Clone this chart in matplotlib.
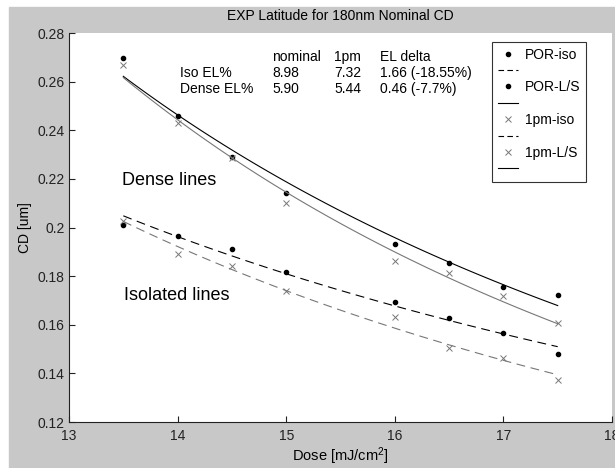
import numpy as np
import matplotlib
matplotlib.use("Agg")
import matplotlib.pyplot as plt
from matplotlib.lines import Line2D

plt.rcParams['font.family'] = ['Liberation Sans', 'DejaVu Sans']
plt.rcParams['mathtext.default'] = 'regular'

# exposure dose [mJ/cm^2]
dose = np.array([13.5, 14.0, 14.5, 15.0, 16.0, 16.5, 17.0, 17.5])

# CD [um]
por_iso = np.array([0.2010, 0.1965, 0.1910, 0.1816, 0.1695, 0.1628, 0.1567, 0.1480])
por_ls = np.array([0.2697, 0.2460, 0.2290, 0.2142, 0.1932, 0.1855, 0.1756, 0.1724])
pm_iso = np.array([0.2027, 0.1890, 0.1842, 0.1739, 0.1630, 0.1503, 0.1462, 0.1373])
pm_ls = np.array([0.2670, 0.2430, 0.2285, 0.2102, 0.1862, 0.1811, 0.1718, 0.1607])

table_head = ['nominal', '1pm', 'EL delta']
table_rows = ['Iso EL%', 'Dense EL%']
table_vals = [['8.98', '7.32', '1.66 (-18.55%)'],
              ['5.90', '5.44', '0.46 (-7.7%)']]


def power_fit(x, y):
    # power law fit CD = a * dose^b, done in log-log space
    b, a = np.polyfit(np.log(x), np.log(y), 1)
    xf = np.linspace(x.min(), x.max(), 100)
    return xf, np.exp(a) * xf ** b


W, H = 615, 468
gray_bg = '#c8c8c8'
fig = plt.figure(figsize=(W / 100, H / 100), dpi=100, facecolor='white')
fig.patches.append(plt.Rectangle((9 / W, 0), 605 / W, 461 / H,
                                 transform=fig.transFigure, color=gray_bg, zorder=-1))
ax = fig.add_axes([69 / W, 46 / H, 543 / W, 389 / H])
ax.set_facecolor('white')

pm_col = '#777777'
ax.plot(dose, por_iso, '.', color='black', ms=6)
ax.plot(*power_fit(dose, por_iso), '--', color='black', lw=0.8, dashes=(8, 5))
ax.plot(dose, por_ls, '.', color='black', ms=6)
ax.plot(*power_fit(dose, por_ls), '-', color='black', lw=0.8)
ax.plot(dose, pm_iso, 'x', color=pm_col, ms=4.5, mew=0.7)
ax.plot(*power_fit(dose, pm_iso), '--', color=pm_col, lw=0.8, dashes=(8, 5))
ax.plot(dose, pm_ls, 'x', color=pm_col, ms=4.5, mew=0.7)
ax.plot(*power_fit(dose, pm_ls), '-', color=pm_col, lw=0.8)

ax.set_xlim(13, 18)
ax.set_ylim(0.12, 0.28)
ax.set_xticks([13, 14, 15, 16, 17, 18])
ax.set_yticks(np.arange(0.12, 0.2801, 0.02))
ax.set_yticklabels(['0.12', '0.14', '0.16', '0.18', '0.2', '0.22', '0.24', '0.26', '0.28'])
ax.spines['top'].set_visible(False)
ax.spines['right'].set_visible(False)
for s in ['left', 'bottom']:
    ax.spines[s].set_linewidth(0.8)
    ax.spines[s].set_color('#222222')
ax.tick_params(direction='in', length=4, width=0.8, labelsize=10, colors='#222222')
ax.tick_params(axis='x', pad=5)
ax.tick_params(axis='y', pad=3)

ax.set_title('EXP Latitude for 180nm Nominal CD', fontsize=10, pad=9)
ax.set_xlabel('Dose [mJ/cm$^2$]', fontsize=10.5, labelpad=2)
ax.set_ylabel('CD [um]', fontsize=10, labelpad=4)

# EL table, placed in pixels from the top-left corner
col_x = [272, 334, 380]
for j, h in enumerate(table_head):
    fig.text(col_x[j] / W, 1 - 57 / H, h, fontsize=10, va='center')
for i, r in enumerate(table_rows):
    yy = 1 - (73 + 16 * i) / H
    fig.text(180 / W, yy, r, fontsize=10, va='center')
    for j, v in enumerate(table_vals[i]):
        fig.text(col_x[j] / W, yy, v, fontsize=10, va='center')

ax.text(13.49, 0.2195, 'Dense lines', fontsize=13, va='center')
ax.text(13.51, 0.1722, 'Isolated lines', fontsize=13, va='center')

# MATLAB style legend: marker entry followed by a line entry
handles = [Line2D([], [], ls='none', marker='.', color='black', ms=6),
           Line2D([], [], ls='--', color='black', lw=0.8, dashes=(5, 3)),
           Line2D([], [], ls='none', marker='.', color='black', ms=6),
           Line2D([], [], ls='-', color='black', lw=0.8),
           Line2D([], [], ls='none', marker='x', color=pm_col, ms=4, mew=0.7),
           Line2D([], [], ls='--', color='black', lw=0.8, dashes=(5, 3)),
           Line2D([], [], ls='none', marker='x', color=pm_col, ms=4, mew=0.7),
           Line2D([], [], ls='-', color='black', lw=0.8)]
labels = ['POR-iso', '', 'POR-L/S', '', '1pm-iso', '', '1pm-L/S', '']
leg = ax.legend(handles, labels, loc='upper left', bbox_to_anchor=((492 - 69) / 543, 1 - 9 / 389),
                fontsize=10, frameon=True, fancybox=False, edgecolor='black',
                handlelength=1.5, handletextpad=0.45, labelspacing=0.17,
                borderpad=0.4, borderaxespad=0)
leg.get_frame().set_linewidth(0.8)

fig.savefig('out.png', dpi=100, facecolor=fig.get_facecolor())
